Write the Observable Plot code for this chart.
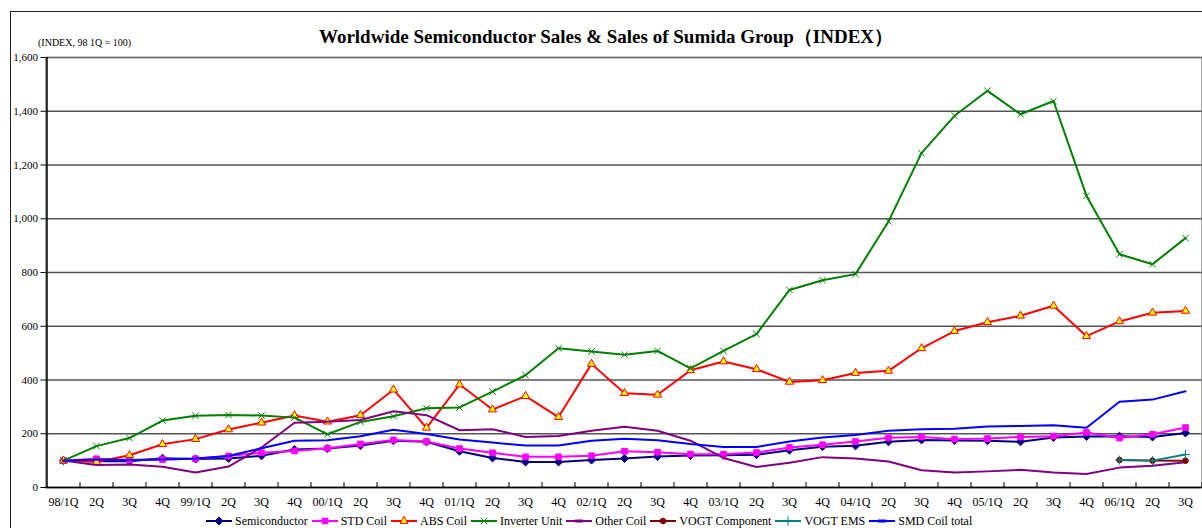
<!DOCTYPE html>
<html><head><meta charset="utf-8">
<script src="https://cdn.jsdelivr.net/npm/d3@7"></script>
<script src="https://cdn.jsdelivr.net/npm/@observablehq/plot@0.6"></script>
<style>
body{margin:0;background:#fff;}
#wrap{position:relative;width:1202px;height:528px;overflow:hidden;background:#fff;font-family:"Liberation Serif","Times New Roman",serif;color:#000;}
#border{position:absolute;left:10px;top:11px;width:1300px;height:600px;border:1px solid #222;}
#title{position:absolute;left:10px;width:1192px;top:26px;text-align:center;font-weight:bold;font-size:19px;line-height:22px;white-space:nowrap;}
#sub{position:absolute;left:38px;top:37px;font-size:10px;line-height:12px;white-space:nowrap;}
#chart{position:absolute;left:0;top:50px;}
#legend{position:absolute;left:206px;top:514px;display:flex;align-items:center;font-size:12px;line-height:14px;white-space:nowrap;}
#legend .it{display:flex;align-items:center;margin-right:4px;}
#legend svg{margin-right:3px;}
</style></head>
<body>
<div id="wrap">
  <div id="border"></div>
  <div id="title">Worldwide Semiconductor Sales &amp; Sales of Sumida Group（INDEX）</div>
  <div id="sub">(INDEX, 98 1Q = 100)</div>
  <div id="chart"></div>
  <div id="legend"></div>
</div>
<script>
const quarters = ["98/1Q","2Q","3Q","4Q","99/1Q","2Q","3Q","4Q","00/1Q","2Q","3Q","4Q","01/1Q","2Q","3Q","4Q","02/1Q","2Q","3Q","4Q","03/1Q","2Q","3Q","4Q","04/1Q","2Q","3Q","4Q","05/1Q","2Q","3Q","4Q","06/1Q","2Q","3Q"];
const yTicks = [0,200,400,600,800,1000,1200,1400,1600];

const semiconductor = [100,98,98,109,106,108,118,141,145,156,174,170,135,110,95,95,102,108,115,119,120,122,139,152,155,170,177,175,174,170,186,190,191,188,203];
const stdCoil = [100,107,102,104,107,117,129,136,146,162,177,171,145,129,114,114,118,135,131,124,124,130,149,159,171,185,188,180,182,188,191,205,184,198,223];
const absCoil = [100,95,120,161,180,216,241,268,245,269,364,222,383,290,340,262,460,351,345,436,469,440,393,399,426,434,518,582,615,639,676,563,618,650,657];
const inverterUnit = [100,154,184,249,267,270,268,260,198,244,265,295,298,357,418,518,506,494,508,443,508,571,735,771,794,990,1244,1383,1476,1389,1438,1085,868,831,928];
const otherCoil = [100,84,86,77,56,78,149,241,245,251,284,269,213,217,188,192,211,226,211,174,110,76,92,113,108,97,64,56,60,66,56,50,74,81,94];
const vogtComponent = [null,null,null,null,null,null,null,null,null,null,null,null,null,null,null,null,null,null,null,null,null,null,null,null,null,null,null,null,null,null,null,null,102,100,100];
const vogtEMS = [null,null,null,null,null,null,null,null,null,null,null,null,null,null,null,null,null,null,null,null,null,null,null,null,null,null,null,null,null,null,null,null,102,100,123];
const smdCoilTotal = [100,104,102,104,108,117,146,174,176,191,215,199,179,167,156,156,174,181,176,162,151,151,171,186,195,211,217,219,227,229,232,222,319,327,358];

const series = [
  {name:"Semiconductor", values:semiconductor, color:"#000080", symbol:"diamond2", r:3.6, fill:"#000080", stroke:"#000080"},
  {name:"STD Coil", values:stdCoil, color:"#FF00FF", symbol:"square", r:3.2, fill:"#FF00FF", stroke:"#FF00FF"},
  {name:"ABS Coil", values:absCoil, color:"#FF0000", symbol:"triangle", r:3, fill:"#FFFF00", stroke:"#FF0000"},
  {name:"Inverter Unit", values:inverterUnit, color:"#008000", symbol:"times", r:3, fill:"none", stroke:"#008000"},
  {name:"Other Coil", values:otherCoil, color:"#800080", symbol:null},
  {name:"VOGT Component", values:vogtComponent, color:"#800000", symbol:"circle", r:2.8, fill:"#800000", stroke:"#800000"},
  {name:"VOGT EMS", values:vogtEMS, color:"#008080", symbol:"plus", r:3, fill:"none", stroke:"#008080"},
  {name:"SMD Coil total", values:smdCoilTotal, color:"#0000FF", symbol:null}
];

const W = 1202, H = 462, mL = 45.5, mR = 0.5, mT = 7, mB = 25;
const n = quarters.length;
const step = (W - mL - mR) / n;
const plotH = H - mT - mB;

const marks = [
  Plot.gridY(yTicks, {stroke:"#555", strokeOpacity:1, strokeWidth:1.3}),
  Plot.frame({stroke:"#666", strokeWidth:1.2}),
  Plot.ruleX([0], {dx:-step/2, stroke:"#000", strokeWidth:1.5}),
  Plot.ruleY([yTicks[0]], {stroke:"#000", strokeWidth:1.5}),
  Plot.ruleX(d3.range(n), {dx:step/2, insetTop:plotH-5, stroke:"#000", strokeWidth:1}),
  Plot.axisY(yTicks, {tickSize:5, tickPadding:3, tickFormat:d3.format(","), fontSize:11, label:null}),
  Plot.axisX(d3.range(n), {tickSize:0, tickPadding:10, tickFormat:i => quarters[i], fontSize:12, label:null})
];
for (const s of series) {
  const data = s.values.map((v,i) => ({i, v})).filter(d => d.v != null);
  marks.push(Plot.line(data, {x:"i", y:"v", stroke:s.color, strokeWidth:2}));
  if (s.symbol) marks.push(Plot.dot(data, {x:"i", y:"v", symbol:s.symbol, r:s.r, fill:s.fill, stroke:s.stroke, strokeWidth:1}));
}

const chart = Plot.plot({
  width:W, height:H, marginLeft:mL, marginRight:mR, marginTop:mT, marginBottom:mB,
  style:{fontFamily:"'Liberation Serif','Times New Roman',serif", background:"transparent", color:"#000", overflow:"visible"},
  x:{type:"point", domain:d3.range(n), padding:0.5, axis:null},
  y:{domain:[0,1600], axis:null},
  marks
});
document.getElementById("chart").appendChild(chart);

// legend
const symMap = {diamond2:d3.symbolDiamond2, square:d3.symbolSquare, triangle:d3.symbolTriangle, times:d3.symbolTimes, circle:d3.symbolCircle, plus:d3.symbolPlus};
const leg = d3.select("#legend");
for (const s of series) {
  const it = leg.append("div").attr("class","it");
  const svg = it.append("svg").attr("width",26).attr("height",12);
  svg.append("line").attr("x1",0).attr("x2",26).attr("y1",6).attr("y2",6).attr("stroke",s.color).attr("stroke-width",2);
  if (s.symbol) {
    svg.append("path").attr("transform","translate(13,6)")
      .attr("d", d3.symbol(symMap[s.symbol], Math.PI * s.r * s.r)())
      .attr("fill", s.fill).attr("stroke", s.stroke).attr("stroke-width",1);
  } else {
    svg.append("line").attr("x1",9).attr("x2",17).attr("y1",6).attr("y2",6).attr("stroke",s.color).attr("stroke-width",3);
  }
  it.append("span").text(s.name);
}
</script>
</body></html>
